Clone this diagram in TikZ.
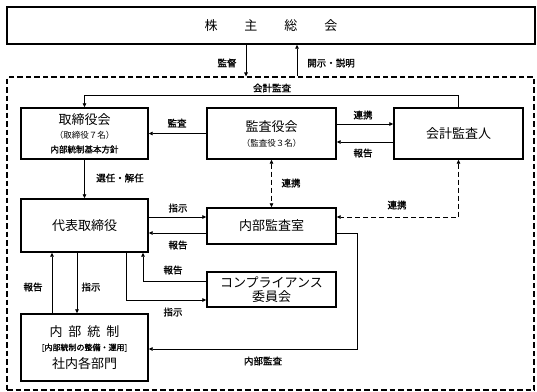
\documentclass[tikz,border=0pt]{standalone}
\usepackage{fontspec}
\usetikzlibrary{arrows.meta}
\newfontfamily\jp{Noto Sans CJK JP}
\newfontfamily\jpb[FakeBold=1.2]{Noto Sans CJK JP}
\begin{document}
\begin{tikzpicture}[x=1pt,y=-1pt,
  box/.style={draw,line width=1.4pt,inner sep=0pt,align=center,font=\jp\fontsize{13}{14}\selectfont},
  con/.style={line width=0.8pt},
  tip/.style={-{Triangle[length=4pt,width=3.6pt]}},
  both/.style={{Triangle[length=4pt,width=3.6pt]}-{Triangle[length=4pt,width=3.6pt]}},
  dsh/.style={dash pattern=on 5pt off 3pt},
  lbl/.style={font=\jpb\fontsize{9.5}{10}\selectfont,inner sep=0pt}]
\useasboundingbox (0,0) rectangle (537,391);
\fill[white] (0,0) rectangle (537,391);

% boxes
\node[box,minimum width=528,minimum height=37] (top) at (271,25.5)
  {株\hspace{27pt}主\hspace{27pt}総\hspace{27pt}会};
\node[draw,line width=1.2pt,dash pattern=on 5.5pt off 3pt,minimum width=527,minimum height=313,inner sep=0pt] (grp) at (270.5,233.5) {};

\node[box,minimum width=127,minimum height=51] (tori) at (84.5,133.5)
  {取締役会\\{\fontsize{8.5}{13}\selectfont（取締役７名）}\\{\jpb\fontsize{8.5}{13}\selectfont 内部統制基本方針}};
\node[box,minimum width=129,minimum height=51] (kansa) at (271.5,133.5)
  {監査役会\\[1pt]{\fontsize{8.5}{13}\selectfont（監査役３名）}};
\node[box,minimum width=129,minimum height=51] (kaikei) at (458.5,133.5) {会計監査人};
\node[box,minimum width=127,minimum height=53] (daihyo) at (84.5,225.5) {代表取締役};
\node[box,minimum width=129,minimum height=36] (naibu) at (271.5,226) {内部監査室};
\node[box,minimum width=129,minimum height=35] (comp) at (271.5,289.5)
  {コンプライアンス\\委員会};
\node[box,minimum width=127,minimum height=67] (ic) at (84.5,347.5)
  {内\hspace{6pt}部\hspace{6pt}統\hspace{6pt}制\\{\jpb\fontsize{8}{13}\selectfont [内部統制の整備・運用]}\\[4pt]社内各部門};

% top arrows
\draw[con,tip] (top.south -| 246,0) -- (grp.north -| 246,0);
\draw[con,tip] (grp.north -| 297,0) -- (top.south -| 297,0);
\node[lbl] (l1) at (227,63) {監督};
\node[lbl] (l2) at (331,63) {開示・説明};

% 会計監査
\coordinate (kl) at (458.5,95);
\draw[con,tip] (kaikei.north) -- (kl) -| (tori.north);
\node[lbl] (l3) at (272,88) {会計監査};

% 監査
\draw[con,tip] (kansa.west) -- (tori.east);
\node[lbl] (l4) at (177,123) {監査};

% 連携 / 報告 between 監査役会 and 会計監査人
\draw[con,tip] (kansa.east |- 0,124) -- (kaikei.west |- 0,124);
\draw[con,tip] (kaikei.west |- 0,142) -- (kansa.east |- 0,142);
\node[lbl] (l5) at (363,115) {連携};
\node[lbl] (l6) at (363,153) {報告};

% dashed links
\draw[con,dsh,both] (kansa.south) -- (naibu.north);
\node[lbl] (l7) at (291,183) {連携};
\coordinate (kb) at (458.5,217);
\draw[con,dsh,both] (kaikei.south) -- (kb) -- (naibu.east |- kb);
\node[lbl] (l8) at (397,205) {連携};

% 選任・解任
\draw[con,tip] (tori.south) -- (daihyo.north);
\node[lbl] (l9) at (120,178) {選任・解任};

% 指示 / 報告 with 内部監査室
\draw[con,tip] (daihyo.east |- 0,217) -- (naibu.west |- 0,217);
\draw[con,tip] (naibu.west |- 0,233) -- (daihyo.east |- 0,233);
\node[lbl] (l10) at (178,208) {指示};
\node[lbl] (l11) at (178,245) {報告};

% コンプライアンス委員会
\coordinate (c1) at (143,281);
\draw[con,tip] (comp.west |- c1) -- (c1) -- (daihyo.south -| c1);
\node[lbl] (l12) at (173,270) {報告};
\coordinate (c2) at (126,300);
\draw[con,tip] (daihyo.south -| c2) -- (c2) -- (comp.west |- c2);
\node[lbl] (l13) at (173,312) {指示};

% 内部統制 verticals
\draw[con,tip] (ic.north -| 52,0) -- (daihyo.south -| 52,0);
\draw[con,tip] (daihyo.south -| 77,0) -- (ic.north -| 77,0);
\node[lbl] (l14) at (33,287) {報告};
\node[lbl] (l15) at (91,287) {指示};

% 内部監査
\coordinate (n1) at (357,233);
\coordinate (n2) at (357,349);
\draw[con,tip] (naibu.east |- n1) -- (n1) -- (n2) -- (ic.east |- n2);
\node[lbl] (l16) at (263,361) {内部監査};
\end{tikzpicture}
\end{document}
